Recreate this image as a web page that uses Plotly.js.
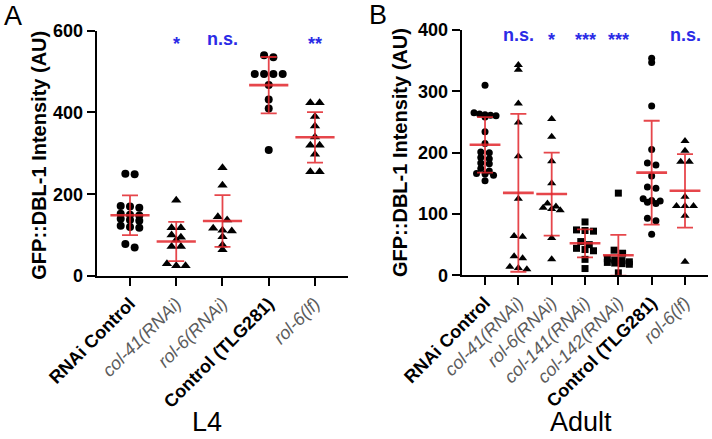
<!DOCTYPE html>
<html><head><meta charset="utf-8">
<script src="https://cdn.plot.ly/plotly-3.0.1.min.js"></script>
<style>html,body{margin:0;padding:0;background:#fff;}#chart{width:712px;height:439px;}</style>
</head><body><div id="chart"></div>
<script>
// ---------- data ----------
const labelsL4 = ['RNAi Control', 'col-41(RNAi)', 'rol-6(RNAi)', 'Control (TLG281)', 'rol-6(lf)'];
const labelsAdult = ['RNAi Control', 'col-41(RNAi)', 'rol-6(RNAi)', 'col-141(RNAi)', 'col-142(RNAi)', 'Control (TLG281)', 'rol-6(lf)'];
const boldLabels = ['RNAi Control', 'Control (TLG281)'];

const rnaiCtrlL4 = [250, 249, 170, 167, 171, 152, 150, 148, 140, 137, 135, 123, 120, 118, 70, 78];
const col41L4 = [185, 118, 118, 100, 95, 88, 72, 72, 25, 30, 25];
const rol6RnaiL4 = [265, 222, 145, 137, 117, 110, 112, 96, 76, 64];
const ctrlTlgL4 = [535, 540, 494, 494, 494, 494, 467, 432, 410, 308];
const rol6lfL4 = [424, 424, 390, 367, 340, 320, 320, 298, 255, 255];

const rnaiCtrlAdult = [310, 265, 263, 262, 261, 260, 258, 234, 215, 201, 200, 192, 190, 183, 182, 174, 170, 166, 165, 163, 154];
const col41Adult = [343, 335, 280, 249, 194, 125, 64, 63, 31, 28, 14, 12, 10];
const rol6RnaiAdult = [255, 226, 186, 150, 117, 112, 110, 108, 106, 61, 26];
const col141Adult = [87, 74, 73, 72, 55, 50, 44, 42, 40, 26, 11];
const col142Adult = [134, 41, 36, 27, 25, 24, 22, 21, 20, 19, 18, 4];
const ctrlTlgAdult = [354, 347, 276, 205, 183, 180, 162, 144, 142, 125, 122, 121, 119, 117, 93, 89, 67];
const rol6lfAdult = [219, 203, 185, 185, 128, 113, 113, 113, 97, 22];

const sigL4 = ['', '*', 'n.s.', '', '**'];
const sigAdult = ['', 'n.s.', '*', '***', '***', '', 'n.s.'];

const ticksL4 = [0, 200, 400, 600];
const ticksAdult = [0, 100, 200, 300, 400];

// ---------- styling ----------
const FONT = 'Liberation Sans, Arial, Helvetica, sans-serif';
const RED = 'rgba(226,38,44,0.85)';
const BLUE = '#2b2be6';
const W = 712, H = 439;

const groupsL4 = [rnaiCtrlL4, col41L4, rol6RnaiL4, ctrlTlgL4, rol6lfL4];
const groupsAdult = [rnaiCtrlAdult, col41Adult, rol6RnaiAdult, col141Adult, col142Adult, ctrlTlgAdult, rol6lfAdult];
const symL4 = ['circle', 'triangle-up', 'triangle-up', 'circle', 'triangle-up'];
const symAdult = ['circle', 'triangle-up', 'triangle-up', 'square', 'square', 'circle', 'triangle-up'];

const panelA = {x0: 96.7, x1: 348, yTop: 30.7, yBot: 276, range: [-0.72, 4.714], ymax: 600,
  spacing: 9.3, maxHalf: 14, binH: 4, msize: 8, meanLen: 28};
const panelB = {x0: 461.7, x1: 708, yTop: 30, yBot: 275.3, range: [-0.7, 6.69], ymax: 400,
  spacing: 8.5, maxHalf: 11, binH: 3.5, msize: 7, meanLen: 22};

function mean(a) { return a.reduce((s, v) => s + v, 0) / a.length; }
function sd(a) { const m = mean(a); return Math.sqrt(a.reduce((s, v) => s + (v - m) * (v - m), 0) / (a.length - 1)); }

// row-binned scatter offsets (category units), computed from the values
function swarm(vals, P, pxPerUnit, pxPerCat) {
  const idx = vals.map((v, i) => i).sort((a, b) => vals[b] - vals[a]);
  const rows = [];
  let cur = [idx[0]], top = vals[idx[0]];
  for (let k = 1; k < idx.length; k++) {
    const i = idx[k];
    if ((top - vals[i]) * pxPerUnit < P.binH) cur.push(i);
    else { rows.push(cur); cur = [i]; top = vals[i]; }
  }
  rows.push(cur);
  const off = new Array(vals.length).fill(0);
  rows.forEach(r => {
    const n = r.length;
    const sp = n > 1 ? Math.min(P.spacing, 2 * P.maxHalf / (n - 1)) : 0;
    r.forEach((i, j) => { off[i] = (j - (n - 1) / 2) * sp / pxPerCat; });
  });
  return off;
}

function tickText(l) {
  return boldLabels.includes(l) ? '<b>' + l + '</b>' : '<span style="color:#5c5c5c"><i>' + l + '</i></span>';
}

const traces = [];
function buildPanel(groups, syms, P, xa, ya) {
  const pxPerCat = (P.x1 - P.x0) / (P.range[1] - P.range[0]);
  const pxPerUnit = (P.yBot - P.yTop) / P.ymax;
  groups.forEach((g, i) => {
    const off = swarm(g, P, pxPerUnit, pxPerCat);
    traces.push({
      type: 'scatter', mode: 'markers', xaxis: xa, yaxis: ya,
      x: g.map((v, j) => i + off[j]), y: g,
      marker: {color: '#000', size: syms[i] === 'triangle-up' ? P.msize + 1 : P.msize, symbol: syms[i], line: {width: 0}},
      cliponaxis: false, showlegend: false, hoverinfo: 'skip'
    });
  });
  traces.push({
    type: 'scatter', mode: 'markers', xaxis: xa, yaxis: ya,
    x: groups.map((g, i) => i), y: groups.map(mean),
    error_y: {type: 'data', array: groups.map(sd), visible: true, color: RED, thickness: 1.8, width: 8},
    marker: {symbol: 'line-ew', size: P.meanLen, color: RED, line: {color: RED, width: 2.6}},
    showlegend: false, hoverinfo: 'skip'
  });
}
buildPanel(groupsL4, symL4, panelA, 'x', 'y');
buildPanel(groupsAdult, symAdult, panelB, 'x2', 'y2');

function xAxis(P, labels, anchor) {
  return {
    domain: [P.x0 / W, P.x1 / W], range: P.range, anchor: anchor,
    tickmode: 'array', tickvals: labels.map((l, i) => i), ticktext: labels.map(tickText),
    tickangle: -45, tickfont: {family: FONT, size: 18, color: '#000'},
    showline: true, linecolor: '#000', linewidth: 2,
    ticks: 'outside', ticklen: 8, tickwidth: 2, tickcolor: '#000',
    showgrid: false, zeroline: false, fixedrange: true
  };
}
function yAxis(P, ticks, anchor) {
  return {
    domain: [1 - P.yBot / H, 1 - P.yTop / H], range: [0, P.ymax], anchor: anchor,
    tickmode: 'array', tickvals: ticks,
    tickfont: {family: FONT, size: 18, color: '#000', weight: 'bold'},
    showline: true, linecolor: '#000', linewidth: 2,
    ticks: 'outside', ticklen: 8, tickwidth: 2, tickcolor: '#000',
    showgrid: false, zeroline: false, fixedrange: true
  };
}

const ann = [];
function txt(text, x, y, size, opts) {
  ann.push(Object.assign({text: text, x: x / W, y: 1 - y / H, xref: 'paper', yref: 'paper',
    xanchor: 'center', yanchor: 'middle', showarrow: false,
    font: {family: FONT, size: size, color: '#000'}}, opts || {}));
}
txt('A', 12.5, 16, 27);
txt('B', 378, 15, 27);
txt('L4', 207.5, 439, 27, {yanchor: 'bottom'});
txt('Adult', 581, 439, 27, {yanchor: 'bottom'});
txt('GFP::DBL-1 Intensity (AU)', 38.7, 155, 20, {textangle: -90, font: {family: FONT, size: 20, color: '#000', weight: 'bold'}});
txt('GFP::DBL-1 Intensity (AU)', 400, 153, 20, {textangle: -90, font: {family: FONT, size: 20, color: '#000', weight: 'bold'}});

function sigAnn(sig, xa, yPx) {
  sig.forEach((s, i) => {
    if (!s) return;
    const star = s.indexOf('*') >= 0;
    ann.push({text: s, x: i, xref: xa, y: 1 - yPx / H, yref: 'paper', xanchor: 'center', yanchor: 'middle',
      yshift: star ? -5 : 0, showarrow: false,
      font: {family: FONT, size: 18, color: BLUE, weight: 'bold'}});
  });
}
sigAnn(sigL4, 'x', 39);
sigAnn(sigAdult, 'x2', 35);

const layout = {
  width: W, height: H, margin: {l: 0, r: 0, t: 0, b: 0},
  paper_bgcolor: '#fff', plot_bgcolor: 'rgba(0,0,0,0)',
  showlegend: false,
  xaxis: xAxis(panelA, labelsL4, 'y'), yaxis: yAxis(panelA, ticksL4, 'x'),
  xaxis2: xAxis(panelB, labelsAdult, 'y2'), yaxis2: yAxis(panelB, ticksAdult, 'x2'),
  annotations: ann
};
Plotly.newPlot('chart', traces, layout, {displayModeBar: false, staticPlot: true});
</script></body></html>
